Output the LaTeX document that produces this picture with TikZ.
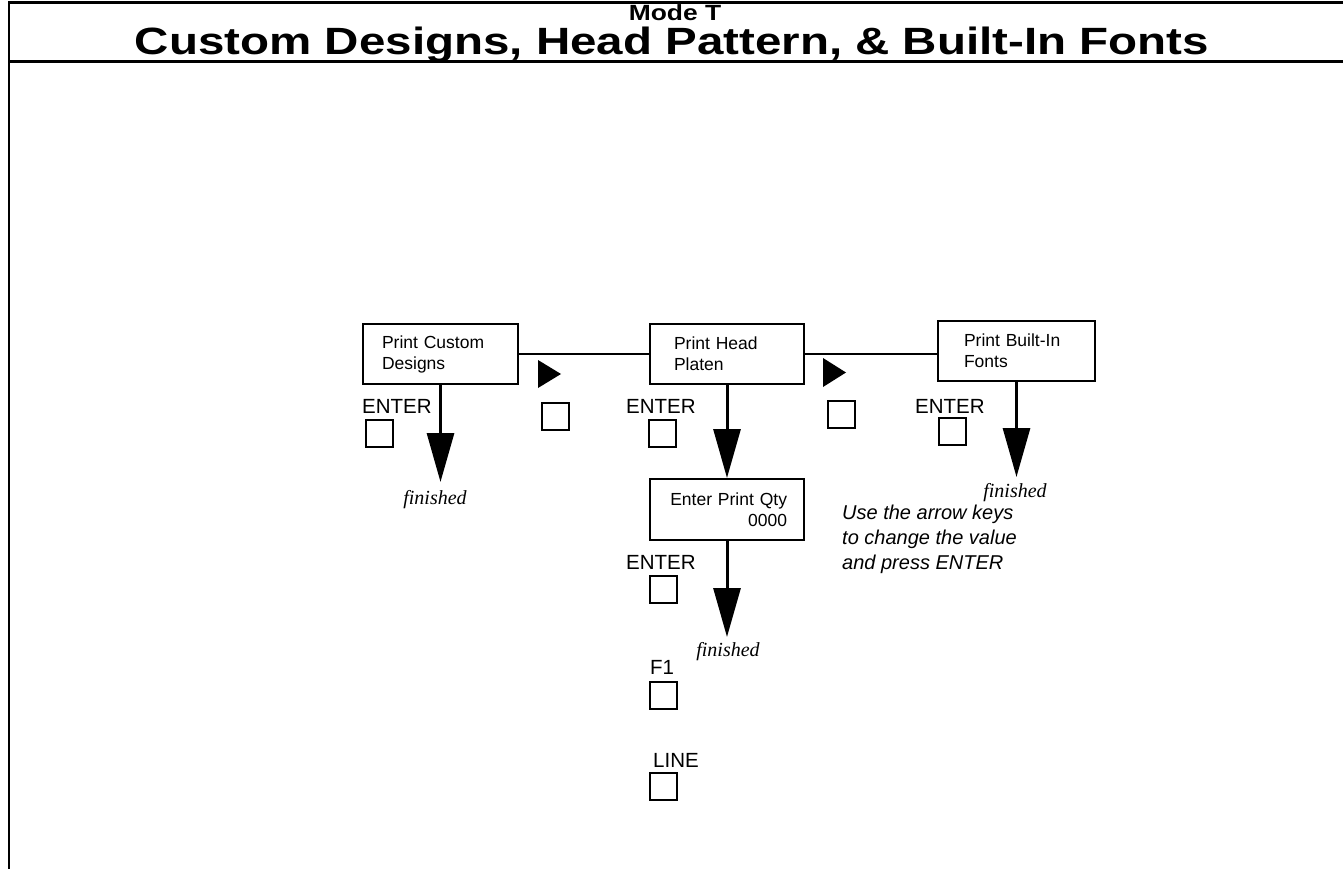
\documentclass[tikz,border=0pt]{standalone}
\usepackage{fontspec}
\setmainfont{Liberation Sans}
\newfontfamily\serifit{Liberation Serif}
\usetikzlibrary{arrows.meta}
\begin{document}
\begin{tikzpicture}[x=1pt,y=-1pt,
  frame/.style={line width=2.5pt},
  stepbox/.style={draw,line width=2pt,minimum height=60pt,font=\fontsize{17.5}{21}\selectfont,align=left,anchor=north west},
  keybox/.style={draw,line width=2pt,minimum size=27pt,inner sep=0pt,anchor=north west},
  keylabel/.style={font=\fontsize{20.5}{22}\selectfont,anchor=base west,inner sep=0pt},
  fin/.style={font=\serifit\itshape\fontsize{20}{22}\selectfont,inner sep=0pt},
  link/.style={line width=2pt},
  flow/.style={line width=3pt,-{Triangle[length=49pt,width=27pt]}},
  note/.style={font=\itshape\fontsize{20}{25}\selectfont,align=left,anchor=base west,inner sep=0pt}
]
\useasboundingbox (0,0) rectangle (1343,869);
% frame
\draw[frame] (9,869) -- (9,2.5) -- (1343,2.5);
\draw[frame] (9,61.5) -- (1343,61.5);
% titles
\node[font=\bfseries\fontsize{22}{24}\selectfont,anchor=base,inner sep=0pt,xscale=1.2] (mode) at (675,20.5) {Mode T};
\node[font=\bfseries\fontsize{38}{40}\selectfont,anchor=base,inner sep=0pt,xscale=1.25] (title) at (672,54.5) {Custom Designs, Head Pattern, \& Built-In Fonts};
% boxes
\node[stepbox,minimum width=155pt,text width=117pt,inner xsep=19pt] (b1) at (362,323) {Print Custom\\Designs};
\node[stepbox,minimum width=154pt,text width=106pt,inner xsep=24pt] (b2) at (649,323) {Print Head\\Platen};
\node[stepbox,minimum width=157pt,text width=105pt,inner xsep=26pt] (b3) at (937,320) {Print Built-In\\Fonts};
\node[stepbox,minimum width=154pt,minimum height=61pt,text width=120pt,inner xsep=17pt,align=right] (b4) at (649,478) {Enter Print Qty\\0000};
% links
\draw[link] (b1.east) -- (b2.west);
\draw[link] (b2.east) -- (b2.east -| b3.west);
% finished labels and arrow tips
\node[fin] (f1) at (435,500) {finished};
\node[fin] (f3) at (1015,493) {finished};
\node[fin] (f4) at (728,652) {finished};
\coordinate (t1) at (b1.south |- 0,482);
\coordinate (t3) at (b3.south |- 0,477);
\coordinate (t4) at (b4.south |- 0,637);
\draw[flow] (b1.south) -- (t1);
\draw[flow] (b2.south) -- (b4.north);
\draw[flow] (b3.south) -- (t3);
\draw[flow] (b4.south) -- (t4);
% keys
\node[keylabel] (e1) at (362,413) {ENTER};
\node[keybox] (k1) at (365,419) {};
\node[keylabel] (e2) at (626,413) {ENTER};
\node[keybox] (k2) at (648,419) {};
\node[keylabel] (e3) at (915,413) {ENTER};
\node[keybox] (k3) at (938,417) {};
\node[keylabel] (e4) at (626,569) {ENTER};
\node[keybox] (k4) at (649,575) {};
\node[keylabel] (fk) at (650,674) {F1};
\node[keybox] (k5) at (649,681) {};
\node[keylabel] (lk) at (653,767) {LINE};
\node[keybox] (k6) at (649,772) {};
% arrow keys
\fill (538,360) -- (561,374) -- (538,388) -- cycle;
\node[keybox] (a1) at (541,402) {};
\fill (823,358) -- (846,372.5) -- (823,387) -- cycle;
\node[keybox] (a2) at (827,400) {};
% note
\node[note] (nt) at (842,569) {Use the arrow keys\\to change the value\\and press ENTER};
\end{tikzpicture}
\end{document}
